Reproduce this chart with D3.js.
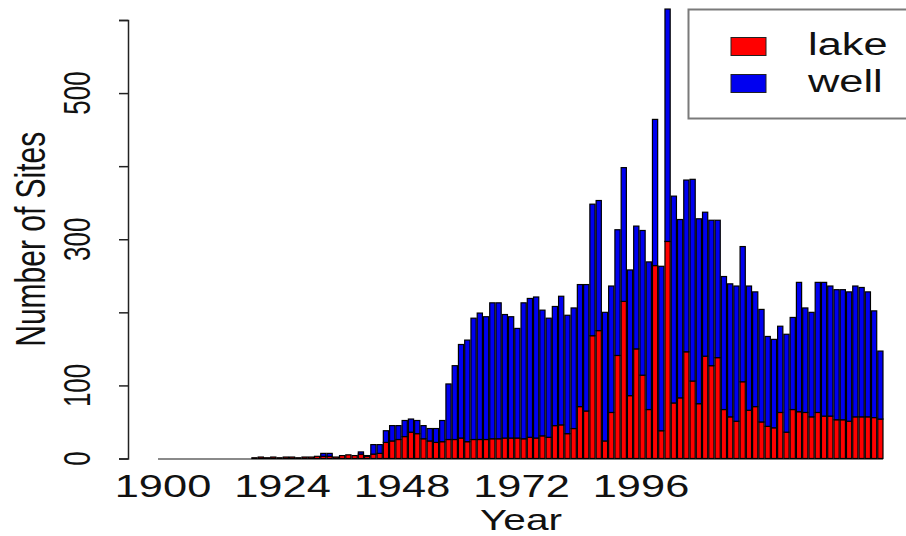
<!DOCTYPE html>
<html>
<head>
<meta charset="utf-8">
<script src="https://cdn.jsdelivr.net/npm/d3@7"></script>
<style>
  body { margin: 0; background: #fff; }
  svg { display: block; font-family: 'Liberation Sans', Arial, Helvetica, sans-serif; }
</style>
</head>
<body>
<svg id="chart" width="906" height="536"></svg>
<script>
const firstYear = 1900

// sites per year
const lake = [
  0, 0, 0, 0, 0, 0, 0, 0, 0, 0, 0, 0, 0, 0, 0,
  1, 2, 1, 2, 1, 2, 2, 1, 2, 2, 3, 3, 3, 2, 4,
  5, 4, 6, 3, 6, 7, 22, 24, 26, 30, 36, 34, 27, 24, 22,
  23, 26, 26, 28, 23, 26, 26, 26, 27, 27, 28, 28, 28, 27, 29,
  28, 31, 29, 45, 46, 34, 41, 71, 65, 168, 175, 24, 63, 141, 215,
  86, 150, 114, 67, 264, 38, 297, 76, 83, 146, 106, 75, 140, 127, 138,
  67, 57, 51, 105, 66, 71, 50, 44, 42, 63, 36, 67, 64, 63, 57,
  63, 58, 58, 53, 53, 51, 57, 57, 57, 56, 54
]
const well = [
  0, 0, 0, 0, 0, 0, 0, 0, 0, 0, 0, 0, 0, 0, 0,
  0, 0, 0, 0, 0, 0, 0, 0, 0, 0, 0, 4, 4, 0, 0,
  0, 0, 3, 1, 13, 12, 16, 21, 19, 22, 18, 18, 18, 17, 19,
  29, 76, 101, 128, 139, 166, 173, 168, 186, 186, 169, 166, 150, 186, 190,
  193, 172, 163, 163, 176, 162, 165, 167, 173, 180, 178, 176, 173, 172, 183,
  172, 168, 198, 202, 200, 225, 318, 283, 244, 235, 276, 253, 197, 199, 188,
  182, 182, 185, 185, 170, 157, 154, 123, 121, 118, 134, 126, 177, 143, 143,
  178, 183, 178, 178, 178, 177, 179, 177, 171, 146, 93
]
const years = lake.map((d, i) => firstYear + i)

const seriesNames = ['lake', 'well']
const seriesColors = ['#ff0000', '#0000f0']
const yTicks = [0, 100, 200, 300, 400, 500, 600]
const yTickLabels = [0, 100, 300, 500]
const xTickLabels = [1900, 1924, 1948, 1972, 1996]

const stretch = 1.4   // the picture is wider than tall text would suggest

const svg = d3.select('#chart')

const rows = years.map((year, i) => ({ year, lake: lake[i], well: well[i] }))
const stacked = d3.stack().keys(seriesNames)(rows)

const x = d3.scaleBand()
  .domain(years)
  .range([157.5, 883.5])
  .paddingInner(1 / 6)
  .paddingOuter(1 / 12)

const y = d3.scaleLinear().domain([0, 600]).range([458.5, 20])

const xLabel = d3.scaleLinear().domain([1900, 1996]).range([163, 641])

const color = d3.scaleOrdinal().domain(seriesNames).range(seriesColors)

// zero-height bars show as a grey baseline
svg.append('line')
  .attr('x1', x(years[0])).attr('x2', x(years[years.length - 1]) + x.bandwidth())
  .attr('y1', y(0) + 0.5).attr('y2', y(0) + 0.5)
  .attr('stroke', '#8a8a8a').attr('stroke-width', 2)

svg.append('g')
  .selectAll('g')
  .data(stacked)
  .join('g')
  .attr('fill', d => color(d.key))
  .selectAll('rect')
  .data(d => d.filter(s => s[1] - s[0] > 0))
  .join('rect')
  .attr('x', d => x(d.data.year))
  .attr('width', x.bandwidth())
  .attr('y', d => y(d[1]))
  .attr('height', d => y(d[0]) - y(d[1]))
  .attr('stroke', '#000')
  .attr('stroke-width', 1.2)

const yAxis = svg.append('g')
  .attr('transform', 'translate(128,0)')
  .call(d3.axisLeft(y).tickValues(yTicks).tickSize(9).tickFormat(''))
yAxis.select('.domain').attr('stroke', '#222').attr('stroke-width', 1.5)
yAxis.selectAll('.tick line').attr('stroke', '#222').attr('stroke-width', 1.5)

svg.append('g')
  .selectAll('text')
  .data(yTickLabels)
  .join('text')
  .attr('transform', d => `translate(90,${y(d)}) scale(${stretch},1) rotate(-90)`)
  .attr('text-anchor', 'middle')
  .attr('font-size', 26)
  .attr('fill', '#111')
  .text(d => d)

svg.append('g')
  .selectAll('text')
  .data(xTickLabels)
  .join('text')
  .attr('transform', d => `translate(${xLabel(d)},497) scale(${stretch},1)`)
  .attr('text-anchor', 'middle')
  .attr('font-size', 31)
  .attr('fill', '#111')
  .text(d => d)

svg.append('text')
  .attr('transform', `translate(521,530) scale(${stretch},1)`)
  .attr('text-anchor', 'middle')
  .attr('font-size', 29)
  .attr('fill', '#111')
  .text('Year')

svg.append('text')
  .attr('transform', `translate(45,${y(300)}) scale(${stretch},1) rotate(-90)`)
  .attr('text-anchor', 'middle')
  .attr('font-size', 30)
  .attr('fill', '#111')
  .text('Number of Sites')

const legend = svg.append('g')
legend.append('rect')
  .attr('x', 688.5).attr('y', 9.5)
  .attr('width', 240).attr('height', 109)
  .attr('fill', 'none').attr('stroke', '#7a7a7a').attr('stroke-width', 2)

const item = legend.selectAll('g.item')
  .data(seriesNames)
  .join('g')
  .attr('class', 'item')
  .attr('transform', (d, i) => `translate(0,${i * 37})`)
item.append('rect')
  .attr('x', 731).attr('y', 37.5)
  .attr('width', 35).attr('height', 18)
  .attr('fill', d => color(d))
  .attr('stroke', '#222').attr('stroke-width', 1)
item.append('text')
  .attr('transform', `translate(808,55) scale(${stretch},1)`)
  .attr('font-size', 31)
  .attr('fill', '#111')
  .text(d => d)
</script>
</body>
</html>
